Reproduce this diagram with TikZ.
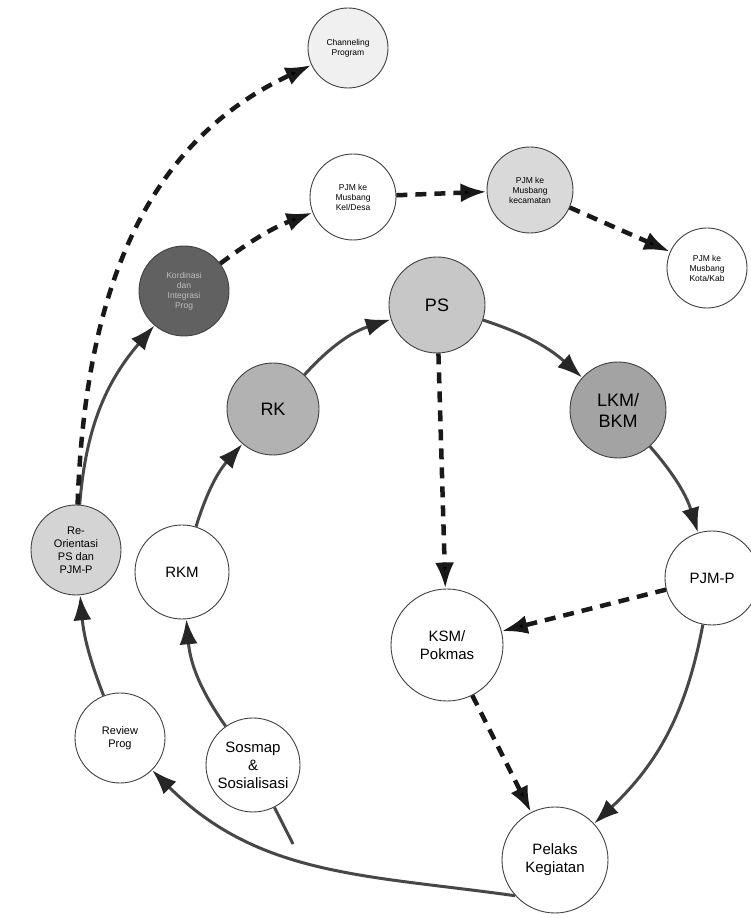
\documentclass[tikz,border=0pt]{standalone}
\usepackage{fontspec}
\setmainfont{Liberation Sans}
\usepackage{xcolor}
\usepackage{tikz}
\usetikzlibrary{arrows.meta}

\begin{document}
\begin{tikzpicture}[x=1pt,y=1pt]
	\tikzstyle{vertex}=[circle,draw=black!75,line width=0.9pt,align=center,inner sep=0pt,fill=white]
	\tikzstyle{tiny}=[font=\fontsize{8.5}{10}\selectfont]
	\tikzstyle{mid}=[font=\fontsize{11}{13}\selectfont]
	\tikzstyle{large}=[font=\fontsize{15}{18}\selectfont]
	\tikzstyle{huge}=[font=\fontsize{18}{21}\selectfont]
	\tikzstyle{flow}=[draw=black!72,line width=3pt,-{Latex[length=25pt,width=18pt,color=black!85]}]
	\tikzstyle{link}=[draw=black!90,line width=4.5pt,dash pattern=on 11pt off 8pt,-{Latex[length=26pt,width=19pt]}]
	\useasboundingbox (0,0) rectangle (751,918);
	% outer row
	\node[vertex,tiny,fill=black!6,minimum size=80pt](chan) at (348,870){Channeling\\Program};
	\node[vertex,tiny,minimum size=86pt](desa) at (353,721){PJM ke\\Musbang\\Kel/Desa};
	\node[vertex,tiny,fill=black!15,minimum size=86pt](kec) at (530,728){PJM ke\\Musbang\\kecamatan};
	\node[vertex,tiny,minimum size=80pt](kota) at (707,650){PJM ke\\Musbang\\Kota/Kab};
	\node[vertex,tiny,fill=black!62,text=black!25,minimum size=90pt](kord) at (184,627){Kordinasi\\dan\\Integrasi\\Prog};
	\node[vertex,mid,fill=black!17,minimum size=90pt](reo) at (76,368){Re-\\Orientasi\\PS dan\\PJM-P};
	\node[vertex,mid,minimum size=90pt](review) at (120,180){Review\\Prog};
	% main cycle
	\node[vertex,huge,fill=black!22,minimum size=96pt](ps) at (437,613){PS};
	\node[vertex,huge,fill=black!30,minimum size=92pt](rk) at (273,509){RK};
	\node[vertex,huge,fill=black!36,minimum size=96pt](lkm) at (618,508){LKM/\\BKM};
	\node[vertex,large,minimum size=94pt](rkm) at (182,346){RKM};
	\node[vertex,large,minimum size=112pt](ksm) at (447,273){KSM/\\Pokmas};
	\node[vertex,large,minimum size=94pt](pjmp) at (712,340){PJM-P};
	\node[vertex,large,minimum size=94pt](sosmap) at (253,153){Sosmap\\\&\\Sosialisasi};
	\node[vertex,large,minimum size=106pt](pelaks) at (555,58){Pelaks\\Kegiatan};
	\coordinate (start) at (293,74);
	\draw[flow,-] (start) -- (sosmap);
	\path[flow]
		(sosmap) edge[bend left=15] (rkm)
		(rkm) edge[bend left=12] (rk)
		(rk) edge[bend left=15] (ps)
		(ps) edge[bend left=12] (lkm)
		(lkm) edge[bend left=12] (pjmp)
		(pjmp) edge[bend left=18] (pelaks)
		(review) edge[bend left=8] (reo)
		(reo) edge[bend left=18] (kord);
	\draw[flow] (pelaks.222) to[out=172,in=-45] (review);
	\path[link]
		(reo) edge[out=88,in=205] (chan)
		(kord) edge[bend left=8] (desa)
		(desa) edge (kec)
		(kec) edge (kota)
		(ps) edge (ksm)
		(pjmp) edge (ksm)
		(ksm) edge (pelaks);
\end{tikzpicture}
\end{document}
